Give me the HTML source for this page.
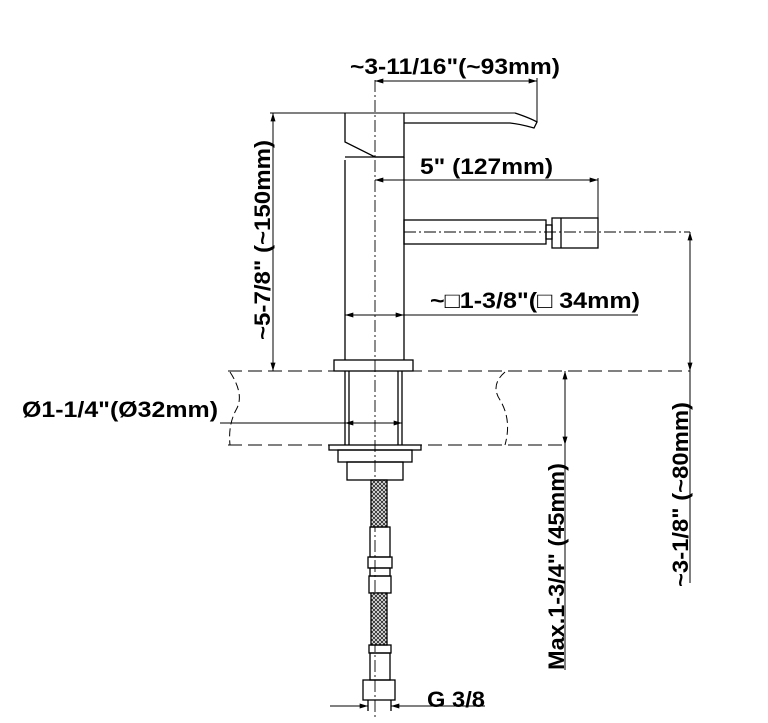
<!DOCTYPE html>
<html><head><meta charset="utf-8"><style>
html,body{margin:0;padding:0;background:#fff;}
svg{display:block;}
text{font-family:"Liberation Sans",Arial,sans-serif;font-weight:bold;font-size:22px;fill:#000;}
</style></head><body>
<svg width="768" height="723" viewBox="0 0 768 723" xmlns="http://www.w3.org/2000/svg">
<defs>
<marker id="a" viewBox="0 0 10 6" refX="10" refY="3" markerWidth="13" markerHeight="5" orient="auto-start-reverse" markerUnits="userSpaceOnUse"><path d="M0,0 L10,3 L0,6z" fill="#000"/></marker>
<pattern id="h" width="4" height="4" patternUnits="userSpaceOnUse"><rect width="4" height="4" fill="#fff"/><path d="M0,0L4,4M4,0L0,4" stroke="#333" stroke-width="1"/></pattern>
</defs>
<g stroke="#000" fill="none" stroke-width="1.3">
<line x1="375" y1="80" x2="375" y2="720" stroke-dasharray="12,3,2,3" stroke-width="0.9"/>
<line x1="404" y1="232" x2="690" y2="232" stroke-dasharray="12,3,2,3" stroke-width="0.9"/>
<line x1="537" y1="78" x2="537" y2="122" stroke-width="1"/>
<line x1="375" y1="81" x2="537" y2="81" stroke-width="1" marker-start="url(#a)" marker-end="url(#a)"/>
<line x1="270" y1="113" x2="515" y2="113" stroke-width="1"/>
<path d="M345,113 V142 L375,157 H404 V113"/>
<path d="M515,113 Q530,118 537,122 L534,128 Q520,124 510,123 H404"/>
<line x1="345" y1="157" x2="404" y2="157"/>
<path d="M345,160 V360 M404,157 V360"/>
<rect x="334" y="360" width="79" height="11"/>
<line x1="375" y1="180" x2="598" y2="180" stroke-width="1" marker-start="url(#a)" marker-end="url(#a)"/>
<line x1="598" y1="178" x2="598" y2="248" stroke-width="1"/>
<rect x="404" y="220" width="142" height="24"/>
<rect x="546" y="225" width="6" height="14"/>
<rect x="552" y="218" width="46" height="30"/>
<line x1="561" y1="218" x2="561" y2="248"/>
<line x1="345" y1="315" x2="404" y2="315" stroke-width="1" marker-start="url(#a)" marker-end="url(#a)"/>
<line x1="404" y1="315" x2="638" y2="315" stroke-width="1"/>
<line x1="273" y1="113" x2="273" y2="371" stroke-width="1" marker-start="url(#a)" marker-end="url(#a)"/>
<line x1="228" y1="371" x2="690" y2="371" stroke-dasharray="14,6" stroke-width="1"/>
<line x1="228" y1="445" x2="568" y2="445" stroke-dasharray="14,6" stroke-width="1"/>
<path d="M230,372 Q245,395 236,410 Q228,425 230,445" stroke-dasharray="8,4" stroke-width="1"/>
<path d="M505,372 Q490,385 500,400 Q512,420 505,445" stroke-dasharray="8,4" stroke-width="1"/>
<path d="M345,371 V445 M349,371 V445 M402,371 V445 M398,371 V445"/>
<line x1="220" y1="423" x2="345" y2="423" stroke-width="1"/>
<line x1="345" y1="423" x2="402" y2="423" stroke-width="1" marker-start="url(#a)" marker-end="url(#a)"/>
<rect x="329" y="445" width="92" height="5"/>
<rect x="338" y="450" width="74" height="12"/>
<rect x="347" y="462" width="56" height="18"/>
<rect x="371" y="480" width="16" height="47" fill="url(#h)"/>
<rect x="370" y="527" width="20" height="30"/>
<rect x="368" y="557" width="24" height="11"/>
<rect x="370" y="568" width="20" height="8"/>
<rect x="369" y="576" width="22" height="17"/>
<rect x="371" y="593" width="16" height="52" fill="url(#h)"/>
<rect x="369" y="645" width="22" height="8"/>
<rect x="370" y="653" width="20" height="27"/>
<rect x="363" y="680" width="32" height="20"/>
<line x1="368" y1="700" x2="368" y2="711"/><line x1="391" y1="700" x2="391" y2="711"/>
<line x1="330" y1="706" x2="368" y2="706" stroke-width="1" marker-end="url(#a)"/>
<line x1="391" y1="706" x2="485" y2="706" stroke-width="1" marker-start="url(#a)"/>
<line x1="565" y1="371" x2="565" y2="670" stroke-width="1"/>
<line x1="565" y1="395" x2="565" y2="371" stroke-width="1" marker-end="url(#a)"/>
<line x1="565" y1="420" x2="565" y2="445" stroke-width="1" marker-end="url(#a)"/>
<line x1="690" y1="232" x2="690" y2="583" stroke-width="1"/>
<line x1="690" y1="260" x2="690" y2="232" stroke-width="1" marker-end="url(#a)"/>
<line x1="690" y1="340" x2="690" y2="371" stroke-width="1" marker-end="url(#a)"/>
</g>
<text x="350" y="74" textLength="210" lengthAdjust="spacingAndGlyphs">~3-11/16"(~93mm)</text>
<text x="420" y="174" textLength="133" lengthAdjust="spacingAndGlyphs">5" (127mm)</text>
<text x="430" y="308" textLength="210" lengthAdjust="spacingAndGlyphs">~□1-3/8"(□ 34mm)</text>
<text x="22" y="417" textLength="196" lengthAdjust="spacingAndGlyphs">Ø1-1/4"(Ø32mm)</text>
<text x="427" y="707" textLength="58" lengthAdjust="spacingAndGlyphs">G 3/8</text>
<text transform="translate(270,340) rotate(-90)" textLength="200" lengthAdjust="spacingAndGlyphs">~5-7/8" (~150mm)</text>
<text transform="translate(564,670) rotate(-90)" textLength="207" lengthAdjust="spacingAndGlyphs">Max.1-3/4" (45mm)</text>
<text transform="translate(688,587) rotate(-90)" textLength="185" lengthAdjust="spacingAndGlyphs">~3-1/8" (~80mm)</text>
</svg>
</body></html>
